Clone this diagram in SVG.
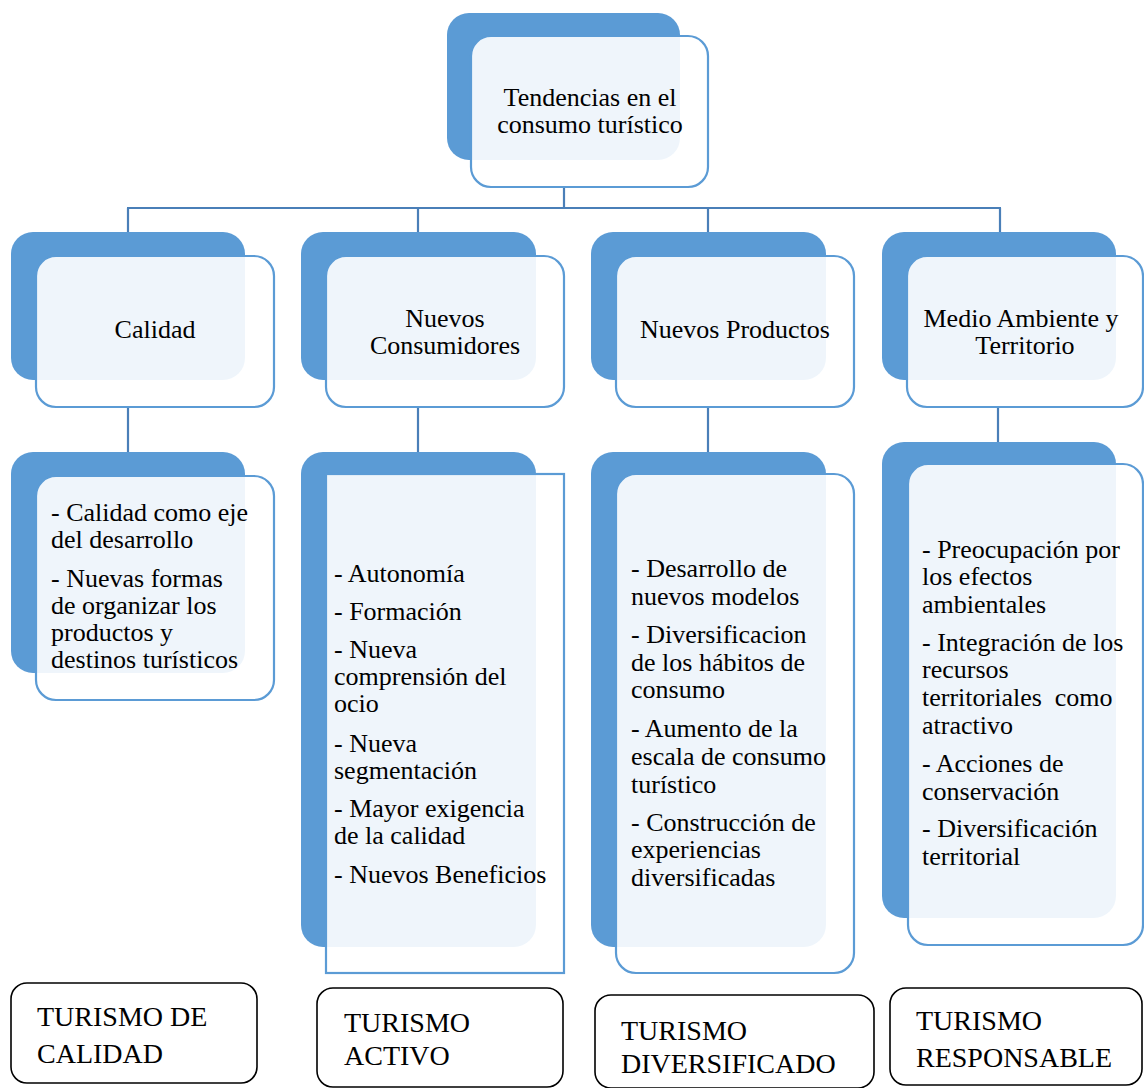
<svg xmlns="http://www.w3.org/2000/svg" width="1144" height="1088" viewBox="0 0 1144 1088">
<style>
.back{fill:#5b9bd5;}
.front{fill:#ffffff;fill-opacity:0.9;stroke:#5b9bd5;stroke-width:2.2;}
.conn{stroke:#4a7fb8;stroke-width:2.2;fill:none;}
text{font-family:'Liberation Serif','Times New Roman','Tinos','Nimbus Roman','FreeSerif','DejaVu Serif',Times,serif;fill:#000;}
.t{font-size:26px;}
.c{text-anchor:middle;}
.b{font-size:28px;}
.bot{fill:#ffffff;stroke:#000;stroke-width:1.6;}
</style>
<rect width="1144" height="1088" fill="#ffffff"/>
<g id="connectors">
<line class="conn" x1="564" y1="187" x2="564" y2="208"/>
<line class="conn" x1="127" y1="208" x2="1001" y2="208"/>
<line class="conn" x1="128" y1="208" x2="128" y2="232"/>
<line class="conn" x1="418" y1="208" x2="418" y2="232"/>
<line class="conn" x1="708" y1="208" x2="708" y2="232"/>
<line class="conn" x1="1000" y1="208" x2="1000" y2="232"/>
<line class="conn" x1="128" y1="407" x2="128" y2="452"/>
<line class="conn" x1="418" y1="407" x2="418" y2="452"/>
<line class="conn" x1="708" y1="407" x2="708" y2="452"/>
<line class="conn" x1="998" y1="407" x2="998" y2="442"/>
</g>
<g id="node-top">
<rect class="back" x="447" y="13" width="233" height="147" rx="22"/>
<rect class="front" x="471" y="36" width="237" height="151" rx="20"/>
<text class="t c" x="590" y="106">Tendencias en el</text>
<text class="t c" x="590" y="133">consumo turístico</text>
</g>
<g id="node-calidad">
<rect class="back" x="11" y="232" width="234" height="148" rx="22"/>
<rect class="front" x="36" y="256" width="238" height="151" rx="20"/>
<text class="t c" x="155" y="338">Calidad</text>
</g>
<g id="node-consumidores">
<rect class="back" x="301" y="232" width="235" height="148" rx="22"/>
<rect class="front" x="326" y="256" width="238" height="151" rx="20"/>
<text class="t c" x="445" y="327">Nuevos</text>
<text class="t c" x="445" y="354">Consumidores</text>
</g>
<g id="node-productos">
<rect class="back" x="591" y="232" width="235" height="148" rx="22"/>
<rect class="front" x="616" y="256" width="238" height="151" rx="20"/>
<text class="t c" x="735" y="338">Nuevos Productos</text>
</g>
<g id="node-medio">
<rect class="back" x="882" y="232" width="234" height="148" rx="22"/>
<rect class="front" x="907" y="256" width="236" height="151" rx="20"/>
<text class="t c" x="1021" y="327">Medio Ambiente y</text>
<text class="t c" x="1025" y="354">Territorio</text>
</g>
<g id="detail-calidad">
<rect class="back" x="11" y="452" width="234" height="221" rx="22"/>
<rect class="front" x="36" y="476" width="238" height="224" rx="20"/>
<text class="t" x="51" y="521">- Calidad como eje</text>
<text class="t" x="51" y="548">del desarrollo</text>
<text class="t" x="51" y="587">- Nuevas formas</text>
<text class="t" x="51" y="614">de organizar los</text>
<text class="t" x="51" y="641">productos y</text>
<text class="t" x="51" y="668">destinos turísticos</text>
</g>
<g id="detail-consumidores">
<rect class="back" x="301" y="452" width="235" height="495" rx="22"/>
<rect class="front" x="326" y="474" width="238" height="499"/>
<text class="t" x="334" y="582">- Autonomía</text>
<text class="t" x="334" y="620">- Formación</text>
<text class="t" x="334" y="658">- Nueva</text>
<text class="t" x="334" y="685">comprensión del</text>
<text class="t" x="334" y="712">ocio</text>
<text class="t" x="334" y="752">- Nueva</text>
<text class="t" x="334" y="779">segmentación</text>
<text class="t" x="334" y="817">- Mayor exigencia</text>
<text class="t" x="334" y="844">de la calidad</text>
<text class="t" x="334" y="883">- Nuevos Beneficios</text>
</g>
<g id="detail-productos">
<rect class="back" x="591" y="452" width="235" height="495" rx="22"/>
<rect class="front" x="616" y="474" width="238" height="499" rx="20"/>
<text class="t" x="631" y="577">- Desarrollo de</text>
<text class="t" x="631" y="605">nuevos modelos</text>
<text class="t" x="631" y="643">- Diversificacion</text>
<text class="t" x="631" y="671">de los hábitos de</text>
<text class="t" x="631" y="698">consumo</text>
<text class="t" x="631" y="737">- Aumento de la</text>
<text class="t" x="631" y="765">escala de consumo</text>
<text class="t" x="631" y="793">turístico</text>
<text class="t" x="631" y="831">- Construcción de</text>
<text class="t" x="631" y="858">experiencias</text>
<text class="t" x="631" y="886">diversificadas</text>
</g>
<g id="detail-medio">
<rect class="back" x="882" y="442" width="234" height="476" rx="22"/>
<rect class="front" x="908" y="464" width="235" height="481" rx="20"/>
<text class="t" x="922" y="558">- Preocupación por</text>
<text class="t" x="922" y="585">los efectos</text>
<text class="t" x="922" y="613">ambientales</text>
<text class="t" x="922" y="651">- Integración de los</text>
<text class="t" x="922" y="678">recursos</text>
<text class="t" x="922" y="706" xml:space="preserve">territoriales  como</text>
<text class="t" x="922" y="734">atractivo</text>
<text class="t" x="922" y="772">- Acciones de</text>
<text class="t" x="922" y="800">conservación</text>
<text class="t" x="922" y="837">- Diversificación</text>
<text class="t" x="922" y="865">territorial</text>
</g>
<g id="result-calidad">
<rect class="bot" x="11" y="983" width="246" height="100" rx="16"/>
<text class="b" x="37" y="1026">TURISMO DE</text>
<text class="b" x="37" y="1063">CALIDAD</text>
</g>
<g id="result-activo">
<rect class="bot" x="317" y="988" width="246" height="99" rx="16"/>
<text class="b" x="344" y="1032">TURISMO</text>
<text class="b" x="344" y="1065">ACTIVO</text>
</g>
<g id="result-diversificado">
<rect class="bot" x="595" y="995" width="279" height="93" rx="16"/>
<text class="b" x="621" y="1040">TURISMO</text>
<text class="b" x="621" y="1073">DIVERSIFICADO</text>
</g>
<g id="result-responsable">
<rect class="bot" x="890" y="988" width="252" height="97" rx="16"/>
<text class="b" x="916" y="1030">TURISMO</text>
<text class="b" x="916" y="1067">RESPONSABLE</text>
</g>
</svg>
